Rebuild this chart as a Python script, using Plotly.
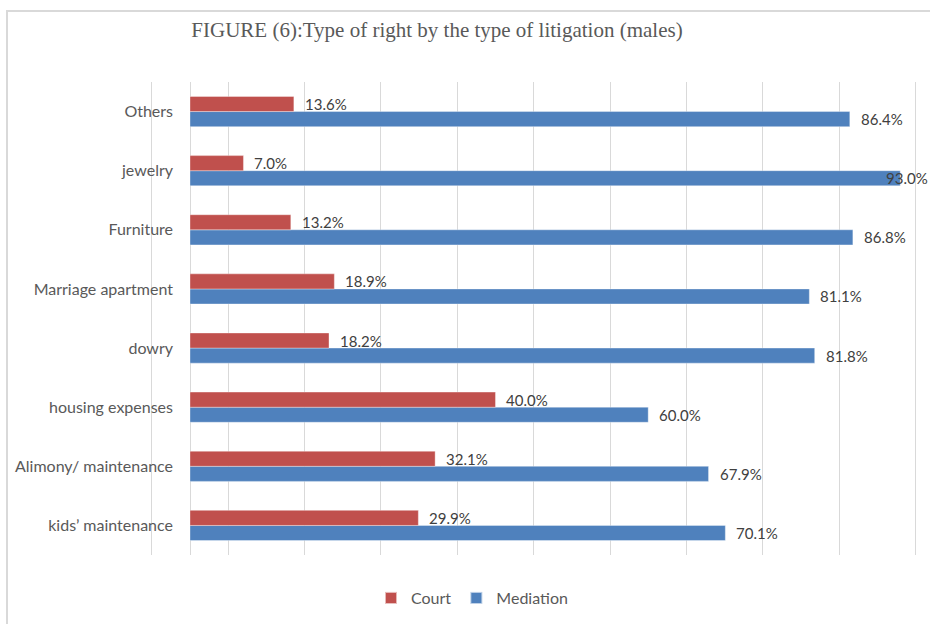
import plotly.graph_objects as go

# Categories listed bottom-to-top as they appear on the chart
categories = [
    "kids’ maintenance",
    "Alimony/ maintenance",
    "housing expenses",
    "dowry",
    "Marriage apartment",
    "Furniture",
    "jewelry",
    "Others",
]
court = [29.9, 32.1, 40.0, 18.2, 18.9, 13.2, 7.0, 13.6]
mediation = [70.1, 67.9, 60.0, 81.8, 81.1, 86.8, 93.0, 86.4]

COURT_COLOR = "#C0504D"
MEDIATION_COLOR = "#4F81BD"
TEXT_GRAY = "#595959"
LABEL_GRAY = "#404040"
GRID_GRAY = "#D9D9D9"

W, H = 930, 624
M_L, M_R, M_T, M_B = 148, 0, 82, 69
PLOT_W = W - M_L - M_R
PLOT_H = H - M_T - M_B
X_MIN, X_MAX = -5.5, 96.9
BAR_GAP = 0.49
BAR_OFFSET = (1 - BAR_GAP) / 4  # centre of each bar relative to its category

fig = go.Figure()
# Mediation first so that Court sits above it within each group
fig.add_trace(go.Bar(
    y=categories, x=mediation, name="Mediation", orientation="h",
    marker=dict(color=MEDIATION_COLOR, line=dict(color="rgba(255,255,255,0.6)", width=0.6)),
    hoverinfo="x+y",
))
fig.add_trace(go.Bar(
    y=categories, x=court, name="Court", orientation="h",
    marker=dict(color=COURT_COLOR, line=dict(color="rgba(255,255,255,0.6)", width=0.6)),
    hoverinfo="x+y",
))

# Value labels just past each bar end, kept inside the chart on the right
px_per_unit = PLOT_W / (X_MAX - X_MIN)
label_font = dict(family="Lato, 'Open Sans', sans-serif", size=15, color=LABEL_GRAY)
annotations = []
for series, shift in ((court, BAR_OFFSET), (mediation, -BAR_OFFSET)):
    for cat_idx, v in enumerate(series):
        end_px = (v - X_MIN) * px_per_unit
        text = f"{v:.1f}%"
        if end_px + 10 + 44 > PLOT_W:
            annotations.append(dict(
                x=X_MAX, y=cat_idx + shift, xref="x", yref="y", text=text,
                showarrow=False, xanchor="right", yanchor="middle", xshift=0,
                font=label_font,
            ))
        else:
            annotations.append(dict(
                x=v, y=cat_idx + shift, xref="x", yref="y", text=text,
                showarrow=False, xanchor="left", yanchor="middle", xshift=9,
                font=label_font,
            ))

# Chart frame (top and left edges fall inside the page)
frame_x0 = (7 - M_L) / PLOT_W
frame_y1 = (H - M_B - 11) / PLOT_H

fig.update_layout(
    width=W, height=H,
    margin=dict(l=M_L, r=M_R, t=M_T, b=M_B, pad=0),
    paper_bgcolor="white", plot_bgcolor="white",
    barmode="group", bargap=BAR_GAP, bargroupgap=0.0,
    title=dict(
        text="FIGURE (6):Type of right by the type of litigation (males)",
        x=437 / W, xanchor="center", xref="container",
        y=1 - 30 / H, yanchor="middle", yref="container",
        font=dict(family="'Liberation Serif', 'Times New Roman', serif", size=21, color=TEXT_GRAY),
    ),
    xaxis=dict(
        range=[X_MIN, X_MAX], tick0=-5, dtick=10,
        showgrid=True, gridcolor=GRID_GRAY, gridwidth=1,
        zeroline=True, zerolinecolor=GRID_GRAY, zerolinewidth=1,
        showticklabels=False, showline=False, ticks="",
        fixedrange=True,
    ),
    yaxis=dict(
        type="category", categoryorder="array", categoryarray=categories,
        showgrid=False, zeroline=False, showline=False, ticks="",
        tickfont=dict(family="Lato, 'Open Sans', sans-serif", size=16, color=TEXT_GRAY),
        ticklabelstandoff=-26,
        fixedrange=True,
    ),
    legend=dict(
        orientation="h", traceorder="reversed",
        x=(472 - M_L) / PLOT_W, xanchor="center",
        y=(H - M_B - 598) / PLOT_H, yanchor="middle",
        font=dict(family="Lato, 'Open Sans', sans-serif", size=16, color=TEXT_GRAY),
        itemwidth=30, itemsizing="constant",
    ),
    annotations=annotations,
    shapes=[dict(
        type="rect", xref="paper", yref="paper",
        x0=frame_x0, x1=1.2, y0=-0.3, y1=frame_y1,
        line=dict(color=GRID_GRAY, width=2), fillcolor="rgba(0,0,0,0)",
        layer="below",
    )],
)

fig.write_html("out.html")
